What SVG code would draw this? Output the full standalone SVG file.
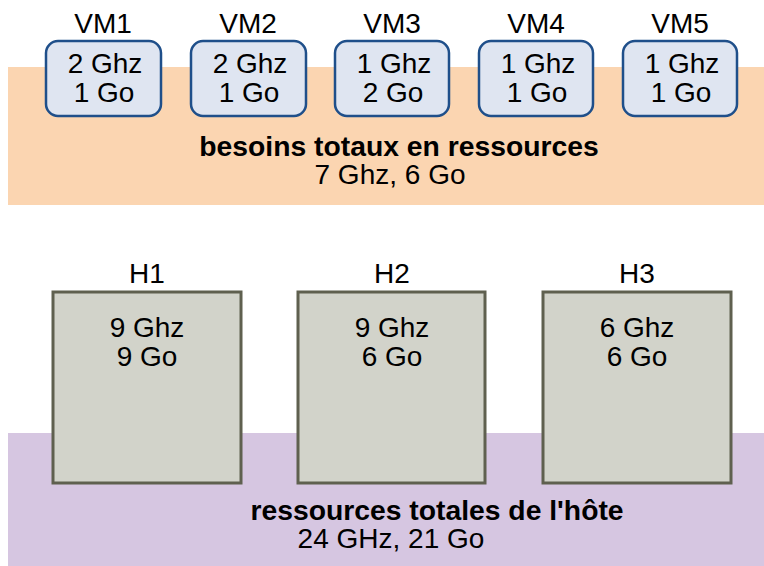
<svg xmlns="http://www.w3.org/2000/svg" width="764" height="566" viewBox="0 0 764 566">
<style>
text{font-family:"Liberation Sans",Arial,sans-serif;font-size:28px;fill:#000;text-anchor:middle}
.b{font-weight:bold;font-size:28.3px}
.vm{fill:#dfe5f1;stroke:#1f4f8a;stroke-width:2.5}
.host{fill:#d2d3ca;stroke:#5f604f;stroke-width:3}
</style>
<rect x="8" y="67" width="756" height="138" fill="#fbd5b1"/>
<rect x="8" y="433" width="756" height="133" fill="#d6c6e1"/>
<g id="VM1"><text x="103" y="33">VM1</text><rect class="vm" x="46" y="41" width="115" height="75" rx="12"/><text x="105" y="73">2 Ghz</text><text x="104" y="102">1 Go</text></g>
<g id="VM2"><text x="248" y="33">VM2</text><rect class="vm" x="191" y="41" width="115" height="75" rx="12"/><text x="250" y="73">2 Ghz</text><text x="249" y="102">1 Go</text></g>
<g id="VM3"><text x="392" y="33">VM3</text><rect class="vm" x="335" y="41" width="114" height="75" rx="12"/><text x="394" y="73">1 Ghz</text><text x="393" y="102">2 Go</text></g>
<g id="VM4"><text x="536" y="33">VM4</text><rect class="vm" x="479" y="41" width="114" height="75" rx="12"/><text x="538" y="73">1 Ghz</text><text x="537" y="102">1 Go</text></g>
<g id="VM5"><text x="680" y="33">VM5</text><rect class="vm" x="623" y="41" width="114" height="75" rx="12"/><text x="682" y="73">1 Ghz</text><text x="681" y="102">1 Go</text></g>
<g id="besoins"><text class="b" x="399" y="156">besoins totaux en ressources</text><text x="390" y="184">7 Ghz, 6 Go</text></g>
<g id="H1"><text x="147" y="283">H1</text><rect class="host" x="53" y="292" width="188" height="191"/><text x="147" y="337">9 Ghz</text><text x="147" y="366">9 Go</text></g>
<g id="H2"><text x="392" y="283">H2</text><rect class="host" x="298" y="292" width="187" height="191"/><text x="392" y="337">9 Ghz</text><text x="392" y="366">6 Go</text></g>
<g id="H3"><text x="637" y="283">H3</text><rect class="host" x="543" y="292" width="188" height="191"/><text x="637" y="337">6 Ghz</text><text x="637" y="366">6 Go</text></g>
<g id="ressources"><text class="b" x="437" y="520">ressources totales de l'hôte</text><text x="391" y="548">24 GHz, 21 Go</text></g>
<g id="connectors"/>
</svg>
